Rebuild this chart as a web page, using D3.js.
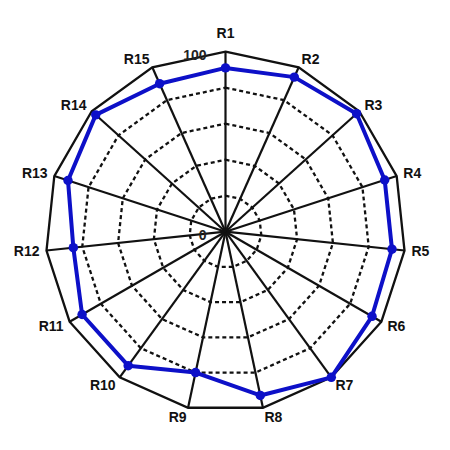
<!DOCTYPE html>
<html lang="en">
<head>
<meta charset="UTF-8">
<title>Radar</title>
<script src="https://cdnjs.cloudflare.com/ajax/libs/d3/7.8.5/d3.min.js"></script>
<style>
    body { margin: 0; background: #fff; }
    .axis-label { font-family: Arial, "Liberation Sans", sans-serif; font-size: 14px; font-weight: bold; fill: #111; }
    .tick-label { font-family: Arial, "Liberation Sans", sans-serif; font-size: 14px; font-weight: bold; fill: #222; }
</style>
</head>
<body>
<div id="chart"></div>
<script>
    const categories = ["R1", "R2", "R3", "R4", "R5", "R6", "R7", "R8", "R9", "R10", "R11", "R12", "R13", "R14", "R15"];
    const values = [91, 94, 98, 93, 93, 94, 100, 93, 80, 92, 92, 85, 92, 97, 90];
    const rings = [20, 40, 60, 80, 100];
    const tickLabels = [0, 100];

    const width = 450, height = 450;
    const cx = 225.5, cy = 231.7;

    const r = d3.scaleLinear().domain([0, 100]).range([0, 180]);
    const angle = d3.scaleLinear().domain([0, categories.length]).range([0, 2 * Math.PI]);

    const svg = d3.select("#chart").append("svg")
        .attr("width", width)
        .attr("height", height);

    const g = svg.append("g").attr("transform", `translate(${cx},${cy})`);

    const pt = (i, v) => [r(v) * Math.sin(angle(i)), -r(v) * Math.cos(angle(i))];

    const line = d3.line().curve(d3.curveLinearClosed);

    // rings (inner dashed, outer solid)
    g.selectAll("path.ring")
        .data(rings)
        .enter().append("path")
        .attr("class", "ring")
        .attr("d", v => line(categories.map((c, i) => pt(i, v))))
        .attr("fill", "none")
        .attr("stroke", "#111")
        .attr("stroke-width", 2.3)
        .attr("stroke-dasharray", v => v === 100 ? null : "4,3");

    // spokes
    g.selectAll("line.spoke")
        .data(categories)
        .enter().append("line")
        .attr("class", "spoke")
        .attr("x1", 0).attr("y1", 0)
        .attr("x2", (c, i) => pt(i, 100)[0])
        .attr("y2", (c, i) => pt(i, 100)[1])
        .attr("stroke", "#111")
        .attr("stroke-width", 2.2);

    // data line
    g.append("path")
        .attr("d", line(values.map((v, i) => pt(i, v))))
        .attr("fill", "none")
        .attr("stroke", "#0d10c8")
        .attr("stroke-width", 4)
        .attr("stroke-linejoin", "round");

    g.selectAll("path.marker")
        .data(values)
        .enter().append("path")
        .attr("class", "marker")
        .attr("transform", (v, i) => `translate(${pt(i, v)})`)
        .attr("d", d3.symbol().type(d3.symbolCircle).size(70))
        .attr("fill", "#0d10c8");

    // axis labels
    g.selectAll("text.axis-label")
        .data(categories)
        .enter().append("text")
        .attr("class", "axis-label")
        .attr("dominant-baseline", "central")
        .attr("text-anchor", (c, i) => {
            const s = Math.sin(angle(i));
            return Math.abs(s) < 0.1 ? "middle" : (s > 0 ? "start" : "end");
        })
        .attr("x", (c, i) => pt(i, 100)[0] + 7 * Math.sin(angle(i)))
        .attr("y", (c, i) => {
            const extra = Math.abs(Math.sin(angle(i))) < 0.1 ? 10 : 0;
            return pt(i, 100)[1] - 9 * Math.cos(angle(i)) - extra;
        })
        .text(c => c);

    // tick labels
    g.selectAll("text.tick-label")
        .data(tickLabels)
        .enter().append("text")
        .attr("class", "tick-label")
        .attr("text-anchor", "end")
        .attr("dominant-baseline", "central")
        .attr("x", -19)
        .attr("y", v => -r(v) + 3)
        .text(v => v);
</script>
</body>
</html>
